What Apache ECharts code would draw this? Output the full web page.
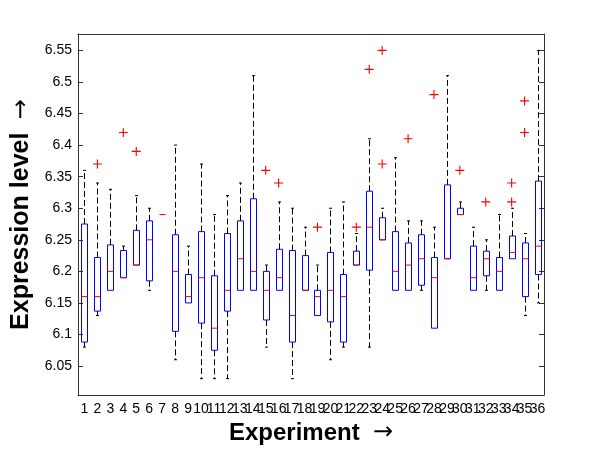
<!DOCTYPE html>
<html>
<head>
<meta charset="utf-8">
<script src="https://cdn.jsdelivr.net/npm/echarts@6/dist/echarts.min.js"></script>
<style>
html,body{margin:0;padding:0;background:#fff;}
#chart{width:600px;height:450px;}
</style>
</head>
<body>
<div id="chart"></div>
<script>
var experiments = ['1','2','3','4','5','6','7','8','9','10','11','12','13','14','15','16','17','18','19','20','21','22','23','24','25','26','27','28','29','30','31','32','33','34','35','36'];
var whiskerLow  = [6.08,6.13,6.17,6.19,6.21,6.17,6.29,6.06,6.15,6.03,6.03,6.03,6.17,6.17,6.08,6.17,6.03,6.17,6.13,6.06,6.08,6.21,6.08,6.25,6.17,6.17,6.17,6.11,6.22,6.29,6.17,6.17,6.17,6.22,6.13,6.15];
var q1          = [6.088,6.137,6.17,6.19,6.21,6.185,6.29,6.105,6.15,6.118,6.075,6.137,6.17,6.17,6.123,6.17,6.088,6.17,6.13,6.12,6.088,6.21,6.202,6.25,6.17,6.17,6.178,6.11,6.22,6.29,6.17,6.193,6.17,6.22,6.16,6.195];
var median      = [6.16,6.16,6.20,6.19,6.21,6.25,6.29,6.20,6.16,6.19,6.11,6.17,6.22,6.20,6.17,6.19,6.13,6.17,6.16,6.17,6.16,6.21,6.27,6.25,6.20,6.21,6.22,6.19,6.22,6.29,6.19,6.22,6.20,6.23,6.22,6.24];
var q3          = [6.275,6.222,6.242,6.233,6.265,6.28,6.29,6.258,6.195,6.263,6.193,6.26,6.28,6.315,6.20,6.235,6.233,6.225,6.17,6.23,6.195,6.232,6.327,6.285,6.263,6.245,6.258,6.222,6.337,6.30,6.24,6.232,6.222,6.256,6.245,6.343];
var whiskerHigh = [6.36,6.34,6.33,6.24,6.32,6.30,6.29,6.40,6.24,6.37,6.29,6.32,6.34,6.51,6.21,6.31,6.30,6.27,6.21,6.30,6.31,6.26,6.41,6.30,6.38,6.28,6.28,6.27,6.51,6.31,6.27,6.25,6.29,6.30,6.26,6.55];
var outlierExp  = ['2','4','5','15','16','19','22','23','24','24','26','28','30','32','34','34','35','35'];
var outlierVal  = [6.37,6.42,6.39,6.36,6.34,6.27,6.27,6.52,6.55,6.37,6.41,6.48,6.36,6.31,6.34,6.31,6.47,6.42];
var yTicks = [6.05,6.1,6.15,6.2,6.25,6.3,6.35,6.4,6.45,6.5,6.55];

var boxRows = experiments.map(function(e,i){
  return [i, whiskerLow[i], q1[i], median[i], q3[i], whiskerHigh[i]];
});
var outRows = outlierExp.map(function(e,i){
  return [experiments.indexOf(e), outlierVal[i]];
});

function renderBox(params, api){
  var x = api.value(0);
  var pLo = api.coord([x, api.value(1)]);
  var pQ1 = api.coord([x, api.value(2)]);
  var pMd = api.coord([x, api.value(3)]);
  var pQ3 = api.coord([x, api.value(4)]);
  var pHi = api.coord([x, api.value(5)]);
  var band = api.size([1,0])[0];
  var bw = Math.round(band*0.5);
  var cx = Math.round(pMd[0]) + 0.5;
  var cap = 1.5;
  var hasHi = api.value(5) > api.value(4);
  var hasLo = api.value(1) < api.value(2);
  var hasBox = api.value(4) > api.value(2);
  return {type:'group', children:[
    {type:'line', name:'wHi', ignore:!hasHi, shape:{x1:cx,y1:pQ3[1],x2:cx,y2:pHi[1]},
      style:{stroke:'#000000', fill:null, lineWidth:1, lineDash:[6,3]}},
    {type:'line', name:'cHi', ignore:!hasHi, shape:{x1:cx-cap,y1:pHi[1],x2:cx+cap,y2:pHi[1]},
      style:{stroke:'#000000', fill:null, lineWidth:1}},
    {type:'line', name:'wLo', ignore:!hasLo, shape:{x1:cx,y1:pQ1[1],x2:cx,y2:pLo[1]},
      style:{stroke:'#000000', fill:null, lineWidth:1, lineDash:[6,3]}},
    {type:'line', name:'cLo', ignore:!hasLo, shape:{x1:cx-cap,y1:pLo[1],x2:cx+cap,y2:pLo[1]},
      style:{stroke:'#000000', fill:null, lineWidth:1}},
    {type:'rect', name:'box', ignore:!hasBox, shape:{x:cx-bw/2, y:pQ3[1], width:bw, height:pQ1[1]-pQ3[1]},
      style:{fill:null, stroke:'#0000ff', lineWidth:1, lineDash:null}},
    {type:'line', name:'med', shape:{x1:cx-bw/2,y1:pMd[1],x2:cx+bw/2,y2:pMd[1]},
      style:{stroke:'#ff0000', fill:null, lineWidth:1, lineDash:null}}
  ]};
}

var plusPath = 'path://M3.5,0H4.5V8H3.5Z M0,3.5H8V4.5H0Z';

var chart = echarts.init(document.getElementById('chart'), null, {renderer:'canvas'});
var axisLineStyle = {color:'#333', width:1};
var titleRich = {
  b:{fontSize:25, fontWeight:'bold', color:'#000', fontFamily:'Liberation Sans'},
  a:{fontSize:24, fontWeight:'normal', color:'#000', fontFamily:'DejaVu Sans'}
};
chart.setOption({
  animation:false,
  backgroundColor:'#fff',
  textStyle:{fontFamily:'Liberation Sans, Arial, sans-serif'},
  grid:{left:78, right:56, top:34, bottom:52, containLabel:false},
  xAxis:[{
    type:'category', data:experiments, position:'bottom', boundaryGap:true,
    axisLine:{lineStyle:axisLineStyle},
    axisTick:{inside:true, length:5, alignWithLabel:true, lineStyle:{color:'#333'}},
    axisLabel:{interval:0, fontSize:14, color:'#000', margin:7, fontFamily:'Liberation Sans'},
    splitLine:{show:false},
    name:'{b|Experiment}    {a|→}', nameLocation:'middle', nameGap:22,
    nameTextStyle:{rich:{
      b:{fontSize:24, fontWeight:'bold', color:'#000', fontFamily:'Liberation Sans'},
      a:{fontSize:24, fontWeight:'normal', color:'#000', fontFamily:'DejaVu Sans'}
    }}
  },{
    type:'category', data:experiments, position:'top', boundaryGap:true,
    axisLine:{lineStyle:axisLineStyle},
    axisTick:{inside:true, length:5, alignWithLabel:true, lineStyle:{color:'#333'}},
    axisLabel:{show:false}
  }],
  yAxis:[{
    type:'value', min:6.004, max:6.576, position:'left',
    axisLine:{show:true, lineStyle:axisLineStyle},
    axisTick:{show:true, inside:true, length:5, customValues:yTicks, lineStyle:{color:'#333'}},
    axisLabel:{customValues:yTicks, fontSize:14, color:'#000', margin:6, fontFamily:'Liberation Sans',
      formatter:function(v){ return String(Math.round(v*100)/100); }},
    splitLine:{show:false},
    name:'{b|Expression level}    {a|→}', nameLocation:'middle', nameGap:41, nameRotate:90,
    nameTextStyle:{rich:titleRich}
  },{
    type:'value', min:6.004, max:6.576, position:'right',
    axisLine:{show:true, lineStyle:axisLineStyle},
    axisTick:{show:true, inside:true, length:5, customValues:yTicks, lineStyle:{color:'#333'}},
    axisLabel:{show:false, customValues:yTicks},
    splitLine:{show:false}
  }],
  series:[{
    type:'custom', renderItem:renderBox, xAxisIndex:0, yAxisIndex:0,
    data:boxRows, encode:{x:0, y:[1,2,3,4,5]}, z:2, silent:true
  },{
    type:'scatter', xAxisIndex:0, yAxisIndex:0, silent:true,
    data:outRows, symbol:plusPath, symbolSize:9,
    itemStyle:{color:'#ff0000', opacity:1}, z:3
  }]
});
</script>
</body>
</html>
